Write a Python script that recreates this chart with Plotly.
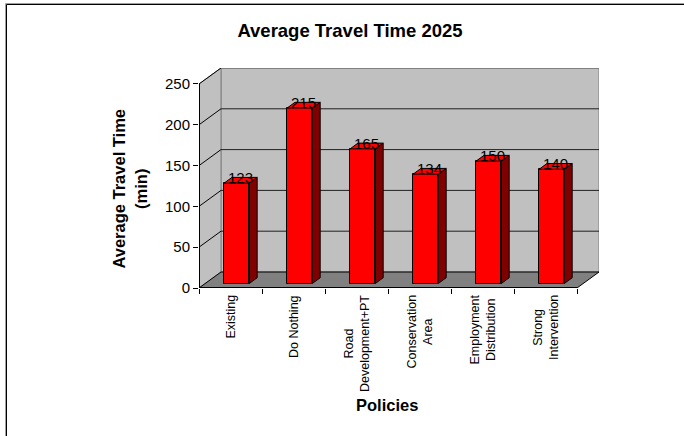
import plotly.graph_objects as go

# ---------------- data ----------------
categories = ["Existing", "Do Nothing", "Road Development+PT",
              "Conservation Area", "Employment Distribution", "Strong Intervention"]
tick_labels = ["Existing", "Do Nothing", "Road<br>Development+PT",
               "Conservation<br>Area", "Employment<br>Distribution", "Strong<br>Intervention"]
values = [123, 215, 165, 134, 150, 140]
y_ticks = [0, 50, 100, 150, 200, 250]

# ---------------- 3D-look geometry (style) ----------------
Y_MAX = 250
DX = 0.349      # depth offset in category units
DY = 19.6       # depth offset in value units
F0, F1 = 0.28, 0.64   # bar depth start / end as fraction of total depth
BW = 0.4        # bar width

n = len(categories)
XR = [-0.5, n - 0.5 + DX]
YR = [0, Y_MAX + DY]

FONT = "Arial, Liberation Sans, sans-serif"
RED, DARKRED = "#FF0000", "#800000"
WALL, FLOOR = "#C0C0C0", "#808080"

fig = go.Figure()

# front faces (bars)
fig.add_trace(go.Bar(
    x=categories, y=values, base=F0 * DY, width=BW, offset=-BW / 2 + F0 * DX,
    marker=dict(color=RED, line=dict(color="black", width=1)),
    xaxis="x", yaxis="y", showlegend=False, hoverinfo="skip"))

# side and top faces
sx, sy, tx, ty = [], [], [], []
for i, v in enumerate(values):
    xr0 = i + BW / 2 + F0 * DX
    xr1 = i + BW / 2 + F1 * DX
    xl0 = i - BW / 2 + F0 * DX
    xl1 = i - BW / 2 + F1 * DX
    sx += [xr0, xr1, xr1, xr0, xr0, None]
    sy += [v + F0 * DY, v + F1 * DY, F1 * DY, F0 * DY, v + F0 * DY, None]
    tx += [xl0, xr0, xr1, xl1, xl0, None]
    ty += [v + F0 * DY, v + F0 * DY, v + F1 * DY, v + F1 * DY, v + F0 * DY, None]

fig.add_trace(go.Scatter(x=sx, y=sy, mode="lines", fill="toself", fillcolor=DARKRED,
                         line=dict(color="black", width=1), xaxis="x2", yaxis="y",
                         showlegend=False, hoverinfo="skip"))
fig.add_trace(go.Scatter(x=tx, y=ty, mode="lines", fill="toself", fillcolor=RED,
                         line=dict(color="black", width=1), xaxis="x2", yaxis="y",
                         showlegend=False, hoverinfo="skip"))

shapes = []
xl, xb = -0.5, -0.5 + DX
xrf, xrb = n - 0.5, n - 0.5 + DX
# back wall
shapes.append(dict(type="rect", xref="x2", yref="y", x0=xb, x1=xrb, y0=DY, y1=Y_MAX + DY,
                   fillcolor=WALL, line=dict(color="#808080", width=1), layer="below"))
# left wall
shapes.append(dict(type="path", xref="x2", yref="y",
                   path=f"M{xl},0 L{xl},{Y_MAX} L{xb},{Y_MAX + DY} L{xb},{DY} Z",
                   fillcolor=WALL, line=dict(color="#808080", width=1), layer="below"))
# floor
shapes.append(dict(type="path", xref="x2", yref="y",
                   path=f"M{xl},0 L{xrf},0 L{xrb},{DY} L{xb},{DY} Z",
                   fillcolor=FLOOR, line=dict(color="black", width=1), layer="below"))
# gridlines
for t in y_ticks[1:]:
    shapes.append(dict(type="line", xref="x2", yref="y", x0=xb, x1=xrb, y0=t + DY, y1=t + DY,
                       line=dict(color="#202020", width=1), layer="below"))
    shapes.append(dict(type="line", xref="x2", yref="y", x0=xl, x1=xb, y0=t, y1=t + DY,
                       line=dict(color="black", width=1), layer="below"))
# back wall top edge in gray
shapes.append(dict(type="line", xref="x2", yref="y", x0=xb, x1=xrb, y0=Y_MAX + DY, y1=Y_MAX + DY,
                   line=dict(color="#808080", width=2), layer="below"))
# front axis lines
shapes.append(dict(type="line", xref="x2", yref="y", x0=xl, x1=xl, y0=0, y1=Y_MAX,
                   line=dict(color="black", width=2)))
shapes.append(dict(type="line", xref="x2", yref="y", x0=xl, x1=xrf, y0=0, y1=0,
                   line=dict(color="black", width=2)))
# outer frame of the chart
shapes.append(dict(type="rect", xref="paper", yref="paper", x0=-0.48375, x1=1.3, y0=-0.8,
                   y1=1.29318, line=dict(color="#A0A0A0", width=1)))
shapes.append(dict(type="rect", xref="paper", yref="paper", x0=-0.48125, x1=1.3, y0=-0.8,
                   y1=1.28864, line=dict(color="black", width=1)))

annotations = []
# data labels
for i, v in enumerate(values):
    annotations.append(dict(x=i + (F0 + F1) / 2 * DX, y=v + F0 * DY, xref="x2", yref="y",
                            text=str(v), showarrow=False, yanchor="bottom", xanchor="center",
                            yshift=-5, font=dict(family=FONT, size=15, color="black")))
# category labels
for c, lab in zip(categories, tick_labels):
    annotations.append(dict(x=c, y=0, xref="x", yref="paper", text=lab, showarrow=False,
                            textangle=-90, yanchor="top", xanchor="center", yshift=-5,
                            align="center", font=dict(family=FONT, size=12.5, color="black")))
# axis titles
annotations.append(dict(x=0.47, y=-0.532, xref="paper", yref="paper", text="<b>Policies</b>",
                        showarrow=False, xanchor="center", yanchor="middle",
                        font=dict(family=FONT, size=16.5, color="black")))
annotations.append(dict(x=-0.1725, y=0.452, xref="paper", yref="paper",
                        text="<b>Average Travel Time<br>(min)</b>", textangle=-90,
                        showarrow=False, xanchor="center", yanchor="middle",
                        font=dict(family=FONT, size=16.5, color="black")))

fig.update_layout(
    width=684, height=436,
    margin=dict(l=199, r=85, t=68, b=148),
    paper_bgcolor="white", plot_bgcolor="rgba(0,0,0,0)",
    title=dict(text="<b>Average Travel Time 2025</b>", x=350 / 684, xref="container",
               xanchor="center", y=1 - 31 / 436, yanchor="middle",
               font=dict(family=FONT, size=18.5, color="black")),
    xaxis=dict(type="category", range=XR, showgrid=False, zeroline=False, showline=False,
               ticks="outside", tickson="boundaries", ticklen=5, tickcolor="black",
               showticklabels=False, fixedrange=True),
    xaxis2=dict(overlaying="x", range=XR, visible=False, fixedrange=True),
    yaxis=dict(range=YR, tickvals=y_ticks, showgrid=False, zeroline=False, showline=False,
               ticks="outside", ticklen=5, tickcolor="black",
               tickfont=dict(family=FONT, size=15, color="black"), fixedrange=True),
    shapes=shapes, annotations=annotations, bargap=0,
)

fig.write_html("out.html")
